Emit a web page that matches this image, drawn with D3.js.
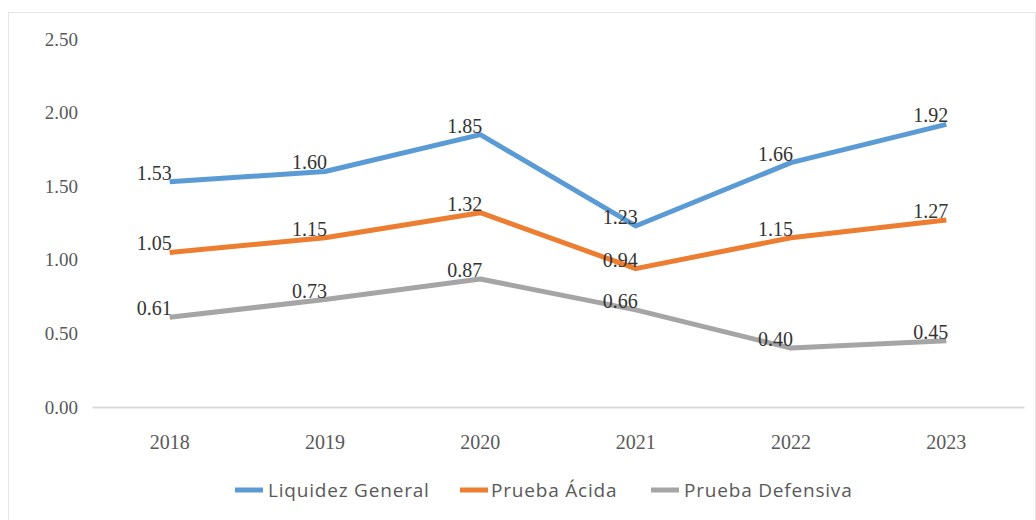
<!DOCTYPE html>
<html>
<head>
<meta charset="utf-8">
<script src="https://cdn.jsdelivr.net/npm/d3@7"></script>
<style>
  html, body { margin: 0; padding: 0; background: #fff; }
  svg { display: block; }
</style>
</head>
<body>
<svg id="chart" width="1036" height="520"></svg>
<script>
// Liquidity ratios by year
const years = ["2018", "2019", "2020", "2021", "2022", "2023"];
const liquidezGeneral = [1.53, 1.60, 1.85, 1.23, 1.66, 1.92];
const pruebaAcida = [1.05, 1.15, 1.32, 0.94, 1.15, 1.27];
const pruebaDefensiva = [0.61, 0.73, 0.87, 0.66, 0.40, 0.45];
const seriesNames = ["Liquidez General", "Prueba Ácida", "Prueba Defensiva"];
const yTicks = [0, 0.5, 1.0, 1.5, 2.0, 2.5];

const series = [
  { name: seriesNames[0], values: liquidezGeneral, color: "#5b9bd5" },
  { name: seriesNames[1], values: pruebaAcida, color: "#ed7d31" },
  { name: seriesNames[2], values: pruebaDefensiva, color: "#a5a5a5" }
];

const svg = d3.select("#chart");
const W = 1036, H = 520;
const plot = { left: 92, right: 1024, top: 39, bottom: 407 };

// outer chart frame
svg.append("rect")
  .attr("x", 8.5).attr("y", 12.5)
  .attr("width", W - 9).attr("height", H)
  .attr("fill", "#fff")
  .attr("stroke", "#e6e6e6").attr("stroke-width", 1);

const x = d3.scaleBand().domain(years).range([plot.left, plot.right]);
const y = d3.scaleLinear().domain([0, 2.5]).range([plot.bottom, plot.top]);

const serif = "'Liberation Serif', 'Times New Roman', serif";

// y axis labels (no axis line)
const yAxis = svg.append("g")
  .attr("transform", `translate(${plot.left - 14},0)`)
  .call(d3.axisLeft(y).tickValues(yTicks).tickFormat(d3.format(".2f")).tickSize(0).tickPadding(0));
yAxis.select(".domain").remove();
yAxis.selectAll("text")
  .attr("font-family", serif).attr("font-size", 19).attr("fill", "#595959");

// x axis: baseline and year labels
const xAxis = svg.append("g")
  .attr("transform", `translate(0,${plot.bottom})`)
  .call(d3.axisBottom(x).tickSize(0).tickPadding(28));
xAxis.select(".domain").attr("stroke", "#d9d9d9").attr("stroke-width", 2);
xAxis.selectAll("text")
  .attr("font-family", serif).attr("font-size", 20).attr("fill", "#595959");

const cx = d => x(d) + x.bandwidth() / 2;

const line = d3.line()
  .x((d, i) => cx(years[i]))
  .y(d => y(d));

series.forEach(s => {
  svg.append("path")
    .datum(s.values)
    .attr("fill", "none")
    .attr("stroke", s.color)
    .attr("stroke-width", 5)
    .attr("stroke-linejoin", "round")
    .attr("d", line);
});

// data labels, sitting just left of and above each point
series.forEach(s => {
  svg.append("g").selectAll("text")
    .data(s.values)
    .join("text")
    .attr("x", (d, i) => cx(years[i]) + 2)
    .attr("y", d => y(d) - 2)
    .attr("text-anchor", "end")
    .attr("font-family", serif).attr("font-size", 20)
    .attr("fill", "#333333")
    .text(d => d3.format(".2f")(d));
});

// legend
const legendItems = [
  { x: 235, textX: 268 },
  { x: 460, textX: 491 },
  { x: 651, textX: 684 }
];
const legend = svg.append("g").attr("transform", "translate(0,490)");
series.forEach((s, i) => {
  legend.append("line")
    .attr("x1", legendItems[i].x).attr("x2", legendItems[i].x + 28)
    .attr("y1", 0).attr("y2", 0)
    .attr("stroke", s.color).attr("stroke-width", 5);
  legend.append("text")
    .attr("x", legendItems[i].textX).attr("y", 0)
    .attr("dy", "0.35em")
    .attr("font-family", "'Open Sans', 'Noto Sans', sans-serif").attr("font-size", 19)
    .attr("letter-spacing", 0.8)
    .attr("fill", "#595959")
    .text(s.name);
});
</script>
</body>
</html>
